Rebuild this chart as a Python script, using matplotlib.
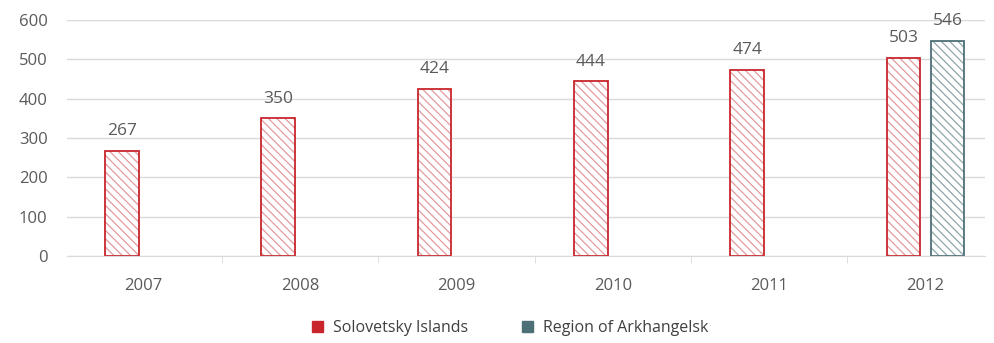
import numpy as np
import matplotlib
matplotlib.use("Agg")
import matplotlib.pyplot as plt
from matplotlib.patches import Patch

years = ["2007", "2008", "2009", "2010", "2011", "2012"]
solovetsky = [267, 350, 424, 444, 474, 503]
arkhangelsk_years = ["2012"]
arkhangelsk = [546]

red = "#c8262c"
red_hatch = "#e39a9d"
teal = "#4d7077"
teal_hatch = "#8fa6aa"
grey = "#5a5a5a"

plt.rcParams["font.family"] = ["Open Sans", "DejaVu Sans"]
plt.rcParams["hatch.linewidth"] = 0.9

fig = plt.figure(figsize=(9.95, 3.43), dpi=100)
ax = fig.add_axes([67 / 995, (343 - 256) / 343, (985 - 67) / 995, 236 / 343])

x = np.arange(len(years))
w = 0.215
off = 0.14

# solovetsky bars (offset left)
for xi, v in zip(x, solovetsky):
    ax.bar(xi - off, v, w, color="white", edgecolor=red_hatch, hatch="\\\\\\\\", linewidth=0)
    ax.bar(xi - off, v, w, fill=False, edgecolor=red, linewidth=1.3)
    ax.text(xi - off, v + 30, str(v), ha="center", va="bottom", fontsize=12.5, color=grey)

# region of arkhangelsk, only 2012
for yr, v in zip(arkhangelsk_years, arkhangelsk):
    xi = years.index(yr)
    ax.bar(xi + off, v, w, color="white", edgecolor=teal_hatch, hatch="\\\\\\\\", linewidth=0)
    ax.bar(xi + off, v, w, fill=False, edgecolor=teal, linewidth=1.3)
    ax.text(xi + off, v + 30, str(v), ha="center", va="bottom", fontsize=12.5, color=grey, clip_on=False)

ax.set_yticks(range(0, 601, 100))
ax.yaxis.grid(True, color="#d9d9d9", linewidth=1)
ax.set_axisbelow(True)
ax.set_xticks(x)
ax.set_xticklabels(years)
ax.set_xticks(np.arange(-0.5, 5.6, 1), minor=True)
ax.set_ylim(0, 600)
ax.set_xlim(-0.49, 5.38)
ax.tick_params(axis="x", which="major", length=0, pad=16, labelsize=12, labelcolor=grey)
ax.tick_params(axis="x", which="minor", length=5, color="#d9d9d9")
ax.tick_params(axis="y", length=0, pad=14, labelsize=12, labelcolor=grey)
for s in ["top", "right", "left"]:
    ax.spines[s].set_visible(False)
ax.spines["bottom"].set_color("#d9d9d9")

handles = [Patch(color=red, label="Solovetsky Islands"),
           Patch(color=teal, label="Region of Arkhangelsk")]
fig.legend(handles=handles, loc="center", bbox_to_anchor=(510 / 995, 1 - 328 / 343),
           ncol=2, frameon=False, fontsize=11.5, handlelength=0.7, handleheight=0.7,
           handletextpad=0.6, columnspacing=3.4, labelcolor="#404040")

fig.savefig("out.png", dpi=100)
